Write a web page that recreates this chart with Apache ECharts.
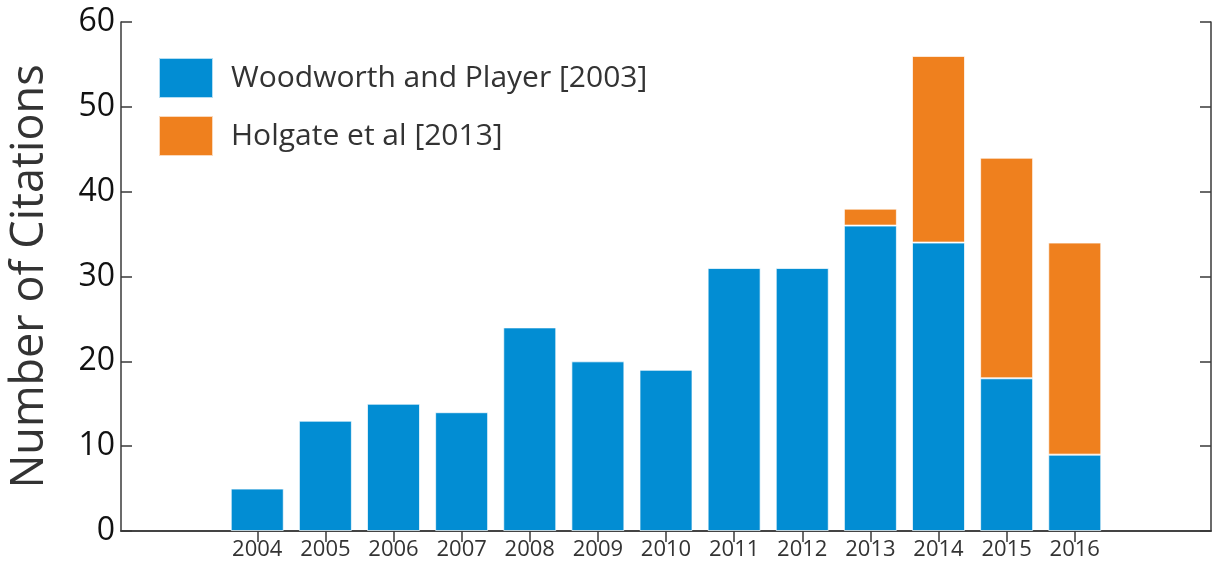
<!DOCTYPE html>
<html>
<head>
<meta charset="utf-8">
<script src="https://cdn.jsdelivr.net/npm/echarts@6/dist/echarts.min.js"></script>
<style>
html,body{margin:0;padding:0;background:#fff;}
#chart{width:1213px;height:562px;}
</style>
</head>
<body>
<div id="chart"></div>
<script>
// years on the axis, 2002 and 2003 / 2017 and 2018 are empty padding
var years = ['2002','2003','2004','2005','2006','2007','2008','2009','2010','2011','2012','2013','2014','2015','2016','2017','2018'];
var woodworth = [null,null,5,13,15,14,24,20,19,31,31,36,34,18,9,null,null];
var holgate = [null,null,null,null,null,null,null,null,null,null,null,2,22,26,25,null,null];
var yTicks = [0,10,20,30,40,50,60];

var chart = echarts.init(document.getElementById('chart'));

function shownYear(idx, val){
    var y = parseInt(val);
    return y >= 2004 && y <= 2016;
}

var frameColor = '#3a3a3a';
var fontFam = '"Open Sans", "Noto Sans", sans-serif';

var option = {
    animation: false,
    textStyle: { fontFamily: fontFam },
    legend: {
        orient: 'vertical',
        left: 153,
        top: 52,
        icon: 'rect',
        itemWidth: 54,
        itemHeight: 40,
        itemGap: 16,
        data: ['Woodworth and Player [2003]', 'Holgate et al [2013]'],
        textStyle: {
            fontSize: 30,
            color: '#333',
            fontFamily: fontFam,
            padding: [0, 0, 0, 13]
        }
    },
    grid: {
        left: 121,
        right: 2,
        top: 22,
        bottom: 31
    },
    xAxis: [{
        type: 'category',
        data: years,
        boundaryGap: false,
        axisLine: { lineStyle: { color: frameColor, width: 1.5 } },
        axisTick: { inside: true, length: 11, interval: shownYear, lineStyle: { color: frameColor, width: 1.5 } },
        axisLabel: {
            interval: shownYear,
            fontSize: 22,
            color: '#333',
            margin: 8
        },
        splitLine: { show: false }
    }, {
        type: 'category',
        data: years,
        position: 'top',
        boundaryGap: false,
        axisLine: { lineStyle: { color: frameColor, width: 1.5 } },
        axisTick: { inside: true, length: 11, interval: shownYear, lineStyle: { color: frameColor, width: 1.5 } },
        axisLabel: { show: false },
        splitLine: { show: false }
    }],
    yAxis: [{
        type: 'value',
        min: 0,
        max: 60,
        interval: 10,
        name: 'Number of Citations',
        nameLocation: 'middle',
        nameGap: 68,
        nameTextStyle: { fontSize: 45, color: '#333', fontFamily: fontFam },
        axisLine: { show: true, lineStyle: { color: frameColor, width: 1.5 } },
        axisTick: { show: true, inside: true, length: 11, lineStyle: { color: frameColor, width: 1.5 } },
        axisLabel: {
            fontSize: 32,
            color: '#111',
            margin: 6,
            formatter: function(v){ return yTicks.indexOf(v) >= 0 ? v : ''; }
        },
        splitLine: { show: false }
    }, {
        type: 'value',
        min: 0,
        max: 60,
        interval: 10,
        position: 'right',
        axisLine: { show: true, lineStyle: { color: frameColor, width: 1.5 } },
        axisTick: { show: true, inside: true, length: 11, lineStyle: { color: frameColor, width: 1.5 } },
        axisLabel: { show: false },
        splitLine: { show: false }
    }],
    series: [{
        name: 'Woodworth and Player [2003]',
        type: 'bar',
        stack: 'cit',
        barWidth: 53,
        data: woodworth,
        itemStyle: {
            color: '#028dd3',
            borderColor: 'rgba(255,255,255,0.7)',
            borderWidth: 1
        }
    }, {
        name: 'Holgate et al [2013]',
        type: 'bar',
        stack: 'cit',
        barWidth: 53,
        data: holgate,
        itemStyle: {
            color: '#ef801e',
            borderColor: 'rgba(255,255,255,0.7)',
            borderWidth: 1
        }
    }]
};

chart.setOption(option);
window.addEventListener('resize', function () {
    chart.resize();
});
</script>
</body>
</html>
